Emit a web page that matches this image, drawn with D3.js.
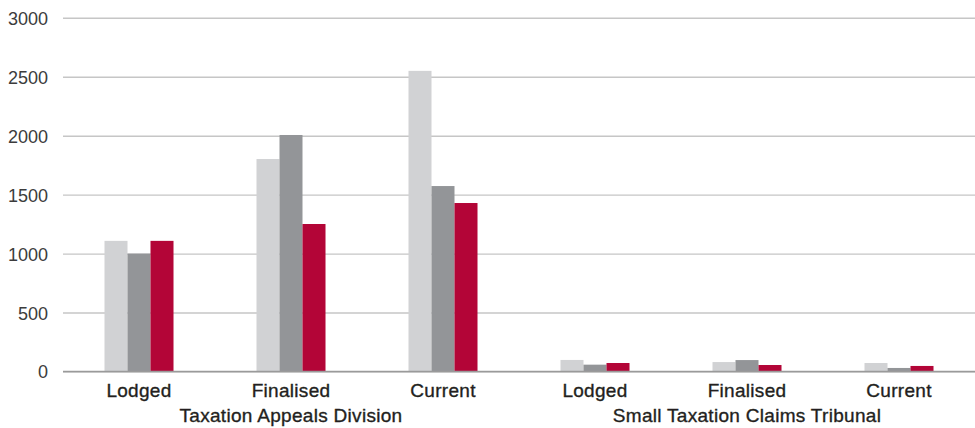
<!DOCTYPE html>
<html>
<head>
<meta charset="utf-8">
<script src="https://cdn.jsdelivr.net/npm/d3@7"></script>
<style>
  html, body { margin: 0; padding: 0; background: #fff; }
  svg { display: block; }
  text { font-family: "Liberation Sans", Arial, Helvetica, sans-serif; }
</style>
</head>
<body>
<svg id="chart" width="975" height="428"></svg>
<script>
// Case categories, grouped by tribunal
const categories = ["Lodged", "Finalised", "Current", "Lodged", "Finalised", "Current"];
const groups = ["Taxation Appeals Division", "Small Taxation Claims Tribunal"];
const groupSpans = [[0, 2], [3, 5]];

// Three series (light grey, dark grey, red), one value per category
const seriesKeys = ["s1", "s2", "s3"];
const s1 = [1108, 1802, 2550, 98, 80, 72];
const s2 = [1000, 2006, 1573, 58, 97, 30];
const s3 = [1108, 1251, 1429, 72, 55, 47];
const seriesValues = { s1, s2, s3 };

const yTicks = [0, 500, 1000, 1500, 2000, 2500, 3000];

const colors = { s1: "#d1d2d4", s2: "#939598", s3: "#b30537" };

const svg = d3.select("#chart");
const plotLeft = 63, plotRight = 975, plotTop = 17.8, plotBottom = 371.5;

const y = d3.scaleLinear().domain([0, 3000]).range([plotBottom, plotTop]);

const x0 = d3.scaleBand()
  .domain(d3.range(categories.length))
  .range([plotLeft, plotRight])
  .paddingInner(0.546)
  .paddingOuter(0.273);

const x1 = d3.scaleBand()
  .domain(seriesKeys)
  .range([0, x0.bandwidth()])
  .padding(0);

// Gridlines and value labels
const yAxis = svg.append("g")
  .attr("transform", `translate(${plotLeft},0)`)
  .call(d3.axisLeft(y).tickValues(yTicks).tickSize(-(plotRight - plotLeft)).tickPadding(15).tickFormat(d3.format("d")));
yAxis.select(".domain").remove();
yAxis.selectAll(".tick line")
  .attr("stroke", "#c6c6c6")
  .attr("stroke-width", 1.4);
yAxis.selectAll(".tick text")
  .attr("fill", "#3c3c3c")
  .attr("font-size", 18)
  .attr("dy", "0.36em");

// Bars
const cat = svg.append("g").selectAll("g")
  .data(categories.map((c, i) => i))
  .join("g")
  .attr("transform", i => `translate(${x0(i)},0)`);

cat.selectAll("rect")
  .data(i => seriesKeys.map(k => ({ key: k, value: seriesValues[k][i] })))
  .join("rect")
  .attr("x", d => x1(d.key))
  .attr("width", x1.bandwidth())
  .attr("y", d => y(d.value))
  .attr("height", d => y(0) - y(d.value))
  .attr("fill", d => colors[d.key]);

// Baseline
svg.append("line")
  .attr("x1", plotLeft).attr("x2", plotRight)
  .attr("y1", y(0)).attr("y2", y(0))
  .attr("stroke", "#9a9a9a")
  .attr("stroke-width", 1.6);

// Category labels
svg.append("g").selectAll("text")
  .data(categories)
  .join("text")
  .attr("x", (d, i) => x0(i) + x0.bandwidth() / 2)
  .attr("y", 397)
  .attr("text-anchor", "middle")
  .attr("font-size", 19)
  .attr("letter-spacing", 0.3)
  .attr("fill", "#231f20")
  .attr("stroke", "#231f20")
  .attr("stroke-width", 0.35)
  .text(d => d);

// Group labels
svg.append("g").selectAll("text")
  .data(groups)
  .join("text")
  .attr("x", (d, i) => {
    const [a, b] = groupSpans[i];
    return (x0(a) + x0(b) + x0.bandwidth()) / 2;
  })
  .attr("y", 422)
  .attr("text-anchor", "middle")
  .attr("font-size", 19)
  .attr("letter-spacing", 0.3)
  .attr("fill", "#231f20")
  .attr("stroke", "#231f20")
  .attr("stroke-width", 0.35)
  .text(d => d);
</script>
</body>
</html>
